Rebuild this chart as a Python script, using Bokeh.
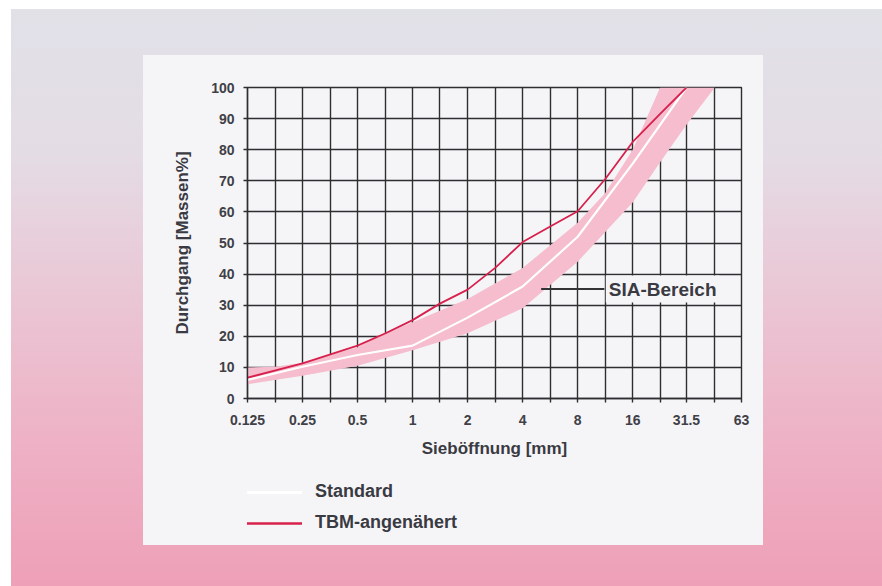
import numpy as np
from bokeh.plotting import figure
from bokeh.models import (FixedTicker, Legend, LegendItem, Label, Arrow,
                          CustomJSTickFormatter, Range1d)
from bokeh.layouts import column
from bokeh.embed import file_html
from bokeh.resources import INLINE

# ---------------- data ----------------
x_ticks = [0.125, 0.25, 0.5, 1, 2, 4, 8, 16, 31.5, 63]
x_minor = [0.177, 0.354, 0.707, 1.41, 2.83, 5.66, 11.3, 22.6, 45]
y_ticks = [0, 10, 20, 30, 40, 50, 60, 70, 80, 90, 100]

tbm_x = [0.125, 0.25, 0.5, 0.707, 1, 1.41, 2, 2.83, 4, 5.66, 8, 11.3, 16, 22.6, 31.5]
tbm_y = [6.7, 11.3, 17.0, 20.9, 25.2, 30.5, 35.0, 42.0, 50.3, 55.3, 60.2, 70.5, 82.5, 91.5, 100]

std_x = [0.125, 0.25, 0.5, 1, 2, 4, 8, 16, 31.5]
std_y = [6.0, 10.2, 14.0, 17.0, 26.0, 36.0, 52.0, 75.5, 100]

sia_upper_x = [0.125, 0.177, 0.25, 0.5, 0.707, 1, 2, 4, 8, 11.3, 16, 22.6]
sia_upper_y = [10.0, 10.2, 11.5, 16.5, 21.0, 24.5, 32.0, 42.0, 56.5, 66.0, 80.0, 100.0]
sia_lower_x = [0.125, 0.25, 0.5, 1, 2, 4, 8, 16, 22.6, 31.5, 45]
sia_lower_y = [4.6, 7.3, 10.5, 15.5, 21.0, 29.0, 44.0, 63.0, 76.0, 88.0, 100.0]

series_names = ["Standard", "TBM-angenähert"]

# annotation anchor (data units)
sia_pointer_x = (5.05, 11.2)
sia_pointer_y = 35.2
sia_label_x = 11.4

# ---------------- style ----------------
PANEL = "#f5f5f8"
GRID = "#2e2e30"
TEXT = "#3a3a42"
RED = "#d8204c"
PINK = "#f5bdcd"
FONT = "Liberation Sans"

p = figure(width=620, height=409, x_axis_type="log",
           x_range=Range1d(0.125, 63), y_range=Range1d(0, 100),
           output_backend="svg", toolbar_location=None,
           min_border_left=104, min_border_right=22,
           min_border_top=32, min_border_bottom=66)
p.background_fill_color = PANEL
p.border_fill_alpha = 0
p.outline_line_color = GRID
p.outline_line_width = 1.4

# axes
p.xaxis.ticker = FixedTicker(ticks=x_ticks, minor_ticks=x_minor)
p.xaxis.formatter = CustomJSTickFormatter(code="return String(tick)")
p.yaxis.ticker = FixedTicker(ticks=y_ticks)
for ax in (p.xaxis, p.yaxis):
    ax.axis_line_color = GRID
    ax.axis_line_width = 1.4
    ax.major_tick_line_color = GRID
    ax.major_tick_line_width = 1.4
    ax.major_tick_in = 0
    ax.major_tick_out = 4
    ax.major_label_text_font = FONT
    ax.major_label_text_font_style = "bold"
    ax.major_label_text_font_size = "14px"
    ax.major_label_text_color = "#404046"
    ax.axis_label_text_font = FONT
    ax.axis_label_text_font_style = "bold"
    ax.axis_label_text_font_size = "17px"
    ax.axis_label_text_color = TEXT
p.xaxis.minor_tick_line_color = GRID
p.xaxis.minor_tick_line_width = 1.4
p.xaxis.minor_tick_in = 0
p.xaxis.minor_tick_out = 4
p.yaxis.minor_tick_line_color = None
p.xaxis.major_label_standoff = 12
p.yaxis.major_label_standoff = 9
p.xaxis.axis_label = "Sieböffnung [mm]"
p.yaxis.axis_label = "Durchgang [Massen%]"
p.xaxis.axis_label_standoff = 11
p.yaxis.axis_label_standoff = 16

# grid
p.xgrid.grid_line_color = GRID
p.xgrid.grid_line_width = 1.4
p.xgrid.minor_grid_line_color = GRID
p.xgrid.minor_grid_line_width = 1.4
p.ygrid.grid_line_color = GRID
p.ygrid.grid_line_width = 1.4

# SIA band
band_x = sia_upper_x + sia_lower_x[::-1]
band_y = sia_upper_y + sia_lower_y[::-1]
p.patch(band_x, band_y, fill_color=PINK, line_color=None)

p.line(std_x, std_y, line_color="white", line_width=2.2)
p.line(tbm_x, tbm_y, line_color=RED, line_width=1.8)

# SIA annotation
p.add_layout(Arrow(end=None, x_start=sia_pointer_x[0], x_end=sia_pointer_x[1],
                   y_start=sia_pointer_y, y_end=sia_pointer_y,
                   line_color="#333336", line_width=2))
p.add_layout(Label(x=sia_label_x, y=sia_pointer_y, text="SIA-Bereich",
                   text_baseline="middle", text_font=FONT,
                   text_font_style="bold", text_font_size="19px",
                   text_color=TEXT, background_fill_color=PANEL,
                   padding=3))

# ---------------- legend strip (lower part of the white panel) ----------------
lg = figure(width=620, height=81, x_range=Range1d(0, 1), y_range=Range1d(0, 1),
            output_backend="svg", toolbar_location=None,
            min_border=0, x_axis_location=None, y_axis_location=None)
lg.background_fill_alpha = 0
lg.border_fill_alpha = 0
lg.outline_line_color = None
lg.xgrid.visible = False
lg.ygrid.visible = False
std_key = lg.line([np.nan], [np.nan], line_color="white", line_width=2.8)
tbm_key = lg.line([np.nan], [np.nan], line_color=RED, line_width=2.6)

legend = Legend(items=[LegendItem(label=series_names[0], renderers=[std_key]),
                       LegendItem(label=series_names[1], renderers=[tbm_key])],
                location=(-4, 12), orientation="vertical",
                glyph_width=59, glyph_height=20, label_height=20,
                label_standoff=13, spacing=10, padding=0, margin=0,
                border_line_color=None, background_fill_alpha=0,
                label_text_font=FONT, label_text_font_style="bold",
                label_text_font_size="18px", label_text_color=TEXT)
lg.add_layout(legend)

panel = column(p, lg, spacing=0, margin=(55, 0, 0, 143),
               styles={"background": PANEL})

page = column(panel, width=882, height=586, spacing=0,
              styles={"background": "linear-gradient(to bottom, #e1e1e8 0%, #e4dce5 25%, #eac6d4 50%, #eeb1c5 75%, #eea0b8 100%) 11px 9px / 871px 577px no-repeat #ffffff"})

open("out.html", "w").write(file_html(page, INLINE))
